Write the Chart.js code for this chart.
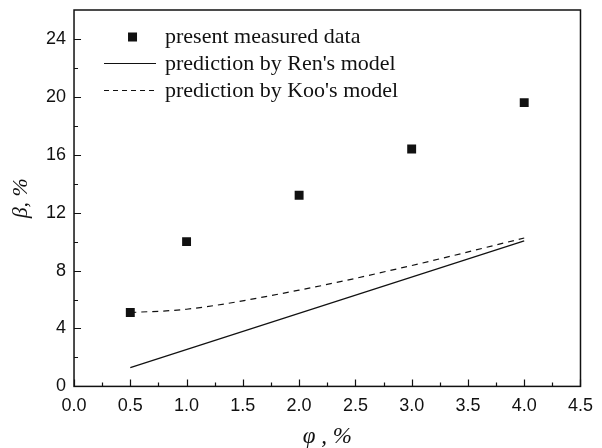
<!DOCTYPE html>
<html>
<head>
<meta charset="utf-8">
<script src="https://cdn.jsdelivr.net/npm/chart.js@4/dist/chart.umd.min.js"></script>
<style>
  html, body { margin: 0; padding: 0; background: #fff; }
  #wrap { width: 602px; height: 448px; }
</style>
</head>
<body>
<div id="wrap"><canvas id="betaChart"></canvas></div>
<script>
// measured data
const measuredPhi = [0.5, 1.0, 2.0, 3.0, 4.0];
const measuredBeta = [5.1, 10.0, 13.2, 16.4, 19.6];
// Ren's model (straight line)
const renPhi = [0.5, 4.0];
const renBeta = [1.3, 10.05];
// Koo's model (dashed curve)
const kooPhi = [0.5, 1.0, 2.0, 3.0, 4.0];
const kooBeta = [5.1, 5.33, 6.65, 8.35, 10.25];

const xTicks = [0, 0.5, 1, 1.5, 2, 2.5, 3, 3.5, 4, 4.5];
const yTicks = [0, 4, 8, 12, 16, 20, 24];

const toPoints = (xs, ys) => xs.map((x, i) => ({ x: x, y: ys[i] }));

// ** inward ticks + frame **
const frameTicks = {
    id: "frameTicks",
    afterDraw(chart) {
        const { ctx, chartArea: a, scales: { x, y } } = chart;
        ctx.save();
        ctx.strokeStyle = "#111";
        ctx.lineWidth = 1.5;
        ctx.strokeRect(a.left, a.top, a.right - a.left, a.bottom - a.top);
        ctx.lineWidth = 1.2;
        ctx.beginPath();
        for (let v = 0; v <= 4.5001; v += 0.25) {
            const px = Math.round(x.getPixelForValue(v)) + 0.5;
            const len = Math.abs(v * 2 - Math.round(v * 2)) < 1e-6 ? 7 : 4;
            ctx.moveTo(px, a.bottom);
            ctx.lineTo(px, a.bottom - len);
        }
        for (let v = 0; v <= 24; v += 2) {
            const py = Math.round(y.getPixelForValue(v)) + 0.5;
            const len = v % 4 === 0 ? 7 : 4;
            ctx.moveTo(a.left, py);
            ctx.lineTo(a.left + len, py);
        }
        ctx.stroke();
        ctx.restore();
    }
};

// ** legend inside the plot **
const innerLegend = {
    id: "innerLegend",
    afterDraw(chart) {
        const { ctx, chartArea: a } = chart;
        const x0 = a.left + 30, x1 = a.left + 82, tx = a.left + 91;
        const rows = [a.top + 27, a.top + 54, a.top + 81];
        ctx.save();
        ctx.font = "22px 'Liberation Serif'";
        ctx.fillStyle = "#111";
        ctx.textBaseline = "middle";
        ctx.fillRect(a.left + 54, rows[0] - 4.5, 9, 9);
        ctx.fillText("present measured data", tx, rows[0]);
        ctx.strokeStyle = "#111";
        ctx.lineWidth = 1;
        ctx.beginPath();
        ctx.moveTo(x0, rows[1] - 0.5);
        ctx.lineTo(x1, rows[1] - 0.5);
        ctx.stroke();
        ctx.fillText("prediction by Ren's model", tx, rows[1]);
        ctx.setLineDash([5, 4]);
        ctx.beginPath();
        ctx.moveTo(x0, rows[2] - 0.5);
        ctx.lineTo(x1, rows[2] - 0.5);
        ctx.stroke();
        ctx.fillText("prediction by Koo's model", tx, rows[2]);
        ctx.restore();
    }
};

new Chart(document.getElementById("betaChart"), {
    type: "scatter",
    data: {
        datasets: [
            {
                label: "present measured data",
                data: toPoints(measuredPhi, measuredBeta),
                pointStyle: "rect",
                pointRadius: 6.3,
                backgroundColor: "#111",
                borderColor: "#111",
                borderWidth: 0,
                showLine: false
            },
            {
                label: "prediction by Ren's model",
                data: toPoints(renPhi, renBeta),
                showLine: true,
                borderColor: "#111",
                borderWidth: 1.2,
                pointRadius: 0
            },
            {
                label: "prediction by Koo's model",
                data: toPoints(kooPhi, kooBeta),
                showLine: true,
                borderColor: "#111",
                borderWidth: 1.2,
                borderDash: [6, 5],
                cubicInterpolationMode: "monotone",
                pointRadius: 0
            }
        ]
    },
    options: {
        responsive: true,
        maintainAspectRatio: false,
        animation: false,
        layout: { padding: { top: 10, right: 13, left: 10, bottom: 0 } },
        plugins: { legend: { display: false }, tooltip: { enabled: false } },
        scales: {
            x: {
                type: "linear",
                min: 0,
                max: 4.5,
                afterBuildTicks: axis => { axis.ticks = xTicks.map(v => ({ value: v })); },
                grid: { display: false, drawTicks: false },
                border: { display: false },
                ticks: {
                    padding: 9,
                    color: "#111",
                    font: { family: "'Liberation Sans'", size: 18 },
                    callback: v => Number(v).toFixed(1),
                    maxRotation: 0
                },
                title: {
                    display: true,
                    text: "φ , %",
                    color: "#111",
                    font: { family: "'Liberation Serif'", size: 23, style: "italic", lineHeight: 1 },
                    padding: { top: -1, bottom: 0 }
                }
            },
            y: {
                type: "linear",
                min: 0,
                max: 26,
                afterBuildTicks: axis => { axis.ticks = yTicks.map(v => ({ value: v })); },
                afterFit: axis => { axis.paddingTop = 0; axis.paddingBottom = 0; },
                grid: { display: false, drawTicks: false },
                border: { display: false },
                ticks: {
                    padding: 8,
                    color: "#111",
                    font: { family: "'Liberation Sans'", size: 18 }
                },
                title: {
                    display: true,
                    text: "β, %",
                    color: "#111",
                    font: { family: "'Liberation Serif'", size: 22, style: "italic", lineHeight: 1 },
                    padding: { top: 0, bottom: 6 }
                }
            }
        }
    },
    plugins: [frameTicks, innerLegend]
});
</script>
</body>
</html>
